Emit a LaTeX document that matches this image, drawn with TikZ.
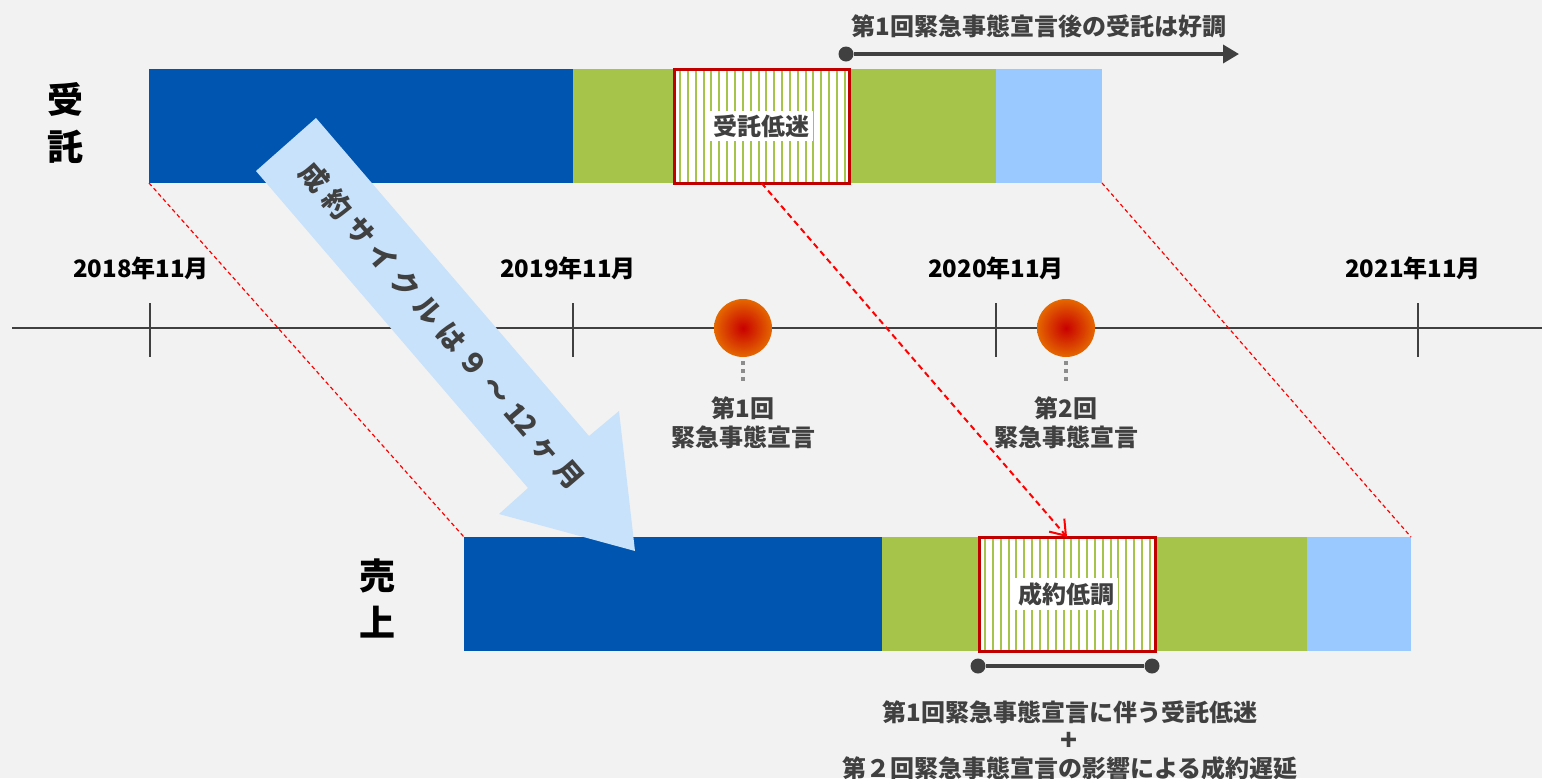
\documentclass[tikz,border=0pt]{standalone}
\usepackage{fontspec}
\setmainfont{Noto Sans CJK JP}
\usetikzlibrary{arrows.meta,fit}
\definecolor{bg}{HTML}{F2F2F2}
\definecolor{dblue}{HTML}{0055B0}
\definecolor{grn}{HTML}{A6C34A}
\definecolor{lblue}{HTML}{99C9FF}
\definecolor{arrblue}{HTML}{C8E2FB}
\definecolor{dred}{HTML}{C00000}
\definecolor{txtgray}{HTML}{404040}
\definecolor{linegray}{HTML}{404040}
\definecolor{dotgray}{HTML}{8C8C8C}
\definecolor{orbin}{HTML}{C80000}
\definecolor{orbmid}{HTML}{DC4A00}
\definecolor{orbout}{HTML}{F29600}
\pgfdeclareradialshading{orb}{\pgfpoint{0bp}{0bp}}{color(0bp)=(orbin); color(18bp)=(orbmid); color(36bp)=(orbout); color(50bp)=(orbout)}
\begin{document}
\begin{tikzpicture}[x=0.5pt,y=-0.5pt,
  font=\bfseries,
  bar/.style={inner sep=0pt, outer sep=0pt},
  hatchbox/.style={inner sep=0pt, outer sep=0pt, fill=white},
  hatch/.style={grn, line width=1pt},
  redframe/.style={draw=dred, line width=1.5pt},
  lbl/.style={fill=white, inner sep=2pt, text=txtgray, font=\bfseries\fontsize{12}{14}\selectfont},
  year/.style={text=black, font=\bfseries\fontsize{12}{14}\selectfont},
  note/.style={text=txtgray, align=center, font=\bfseries\fontsize{12}{14.5}\selectfont},
  side/.style={text=black, align=center, font=\bfseries\fontsize{18}{23.5}\selectfont},
  thinred/.style={red, line width=0.6pt, dash pattern=on 2pt off 1.5pt},
  thickred/.style={red, line width=1pt, dash pattern=on 3pt off 2pt, -{Straight Barb[length=7pt,width=10pt]}},
  dot/.style={circle, fill=linegray, inner sep=0pt, minimum size=7.5pt},
  orbnode/.style={circle, shading=orb, inner sep=0pt, minimum size=29pt},
  dotline/.style={dotgray, line width=2pt, dash pattern=on 2pt off 2pt},
]
\path[use as bounding box, fill=bg] (0,0) rectangle (1542,778);

% ---------- top bar (受託)
\node[bar, fill=dblue, fit={(149,69)(573,183)}] (tb1) {};
\node[bar, fill=grn, fit={(573,69)(996,183)}] (tb2) {};
\node[bar, fill=lblue, fit={(996,69)(1102,183)}] (tb3) {};
\node[hatchbox, fit={(674,69)(849,183)}] (th) {};
\begin{scope}
  \clip (674,69) rectangle (849,183);
  \foreach \x in {680,687.85,...,847} \draw[hatch] (\x,69) -- (\x,183);
\end{scope}
\draw[redframe] (th.south west) rectangle (th.north east);
\node[lbl] (thl) at (761,126) {受託低迷};

% ---------- bottom bar (売上)
\node[bar, fill=dblue, fit={(464,537)(882,651)}] (bb1) {};
\node[bar, fill=grn, fit={(882,537)(1307,651)}] (bb2) {};
\node[bar, fill=lblue, fit={(1307,537)(1411,651)}] (bb3) {};
\node[hatchbox, fit={(979,537)(1155,651)}] (bh) {};
\begin{scope}
  \clip (979,537) rectangle (1155,651);
  \foreach \x in {985,992.85,...,1152} \draw[hatch] (\x,537) -- (\x,651);
\end{scope}
\draw[redframe] (bh.south west) rectangle (bh.north east);
\node[lbl] (bhl) at (1066,594) {成約低調};

% ---------- side labels
\node[side] (jt) at (65,123.5) {受\\託};
\node[side] (uj) at (377,598.5) {売\\上};

% ---------- timeline
\coordinate (tlA) at (12,328);
\coordinate (tlB) at (1542,328);
\draw[linegray, line width=1.4pt] (tlA) -- (tlB);
\foreach \n/\x in {a/150,b/573,c/996,d/1418}{
  \coordinate (tick\n top) at (\x,303);
  \coordinate (tick\n bot) at (\x,357);
  \draw[linegray, line width=1.2pt] (tick\n top) -- (tick\n bot);
}
\node[year] (y18) at (141,268) {2018年11月};
\node[year] (y19) at (568,268) {2019年11月};
\node[year] (y20) at (996,268) {2020年11月};
\node[year] (y21) at (1413,268) {2021年11月};

% ---------- emergency declarations
\node[orbnode] (o1) at (743,328) {};
\node[orbnode] (o2) at (1066,328) {};
\coordinate (d1) at (743,383);
\coordinate (d2) at (1066,383);
\draw[dotline] ([yshift=-2pt]o1.south) -- (d1);
\draw[dotline] ([yshift=-2pt]o2.south) -- (d2);
\node[note] (n1) at (743,423) {第1回\\緊急事態宣言};
\node[note] (n2) at (1066,423) {第2回\\緊急事態宣言};

% ---------- red dashed connectors
\draw[thinred] (tb1.south west) -- (bb1.north west);
\draw[thinred] (tb3.south east) -- (bb3.north east);
\draw[thickred] (th.south) -- (bh.north);

% ---------- big arrow
\fill[arrblue] (316,118) -- (589,436) -- (619,411) -- (635,551) -- (499,514) -- (528,488) -- (256,171) -- cycle;
\node[text=txtgray, rotate=-49.4, inner sep=0pt, font=\bfseries\fontsize{14}{16}\selectfont] (cyc) at (442,326)
  {成\kern3.5pt 約\kern3.5pt サ\kern3.5pt イ\kern3.5pt ク\kern3.5pt ル\kern3.5pt は\kern3.5pt ９\kern3.5pt ～\kern3.5pt 12\kern3.5pt ヶ\kern3.5pt 月};

% ---------- top annotation
\node[dot] (s1) at (846,54) {};
\coordinate (e1) at (1239,54);
\draw[linegray, line width=1.8pt, -{Triangle[length=8pt,width=9pt]}] (s1) -- (e1);
\node[note] (topt) at (1039,26) {第1回緊急事態宣言後の受託は好調};

% ---------- bottom annotation
\node[dot] (b1) at (978,666) {};
\node[dot] (b2) at (1152,666) {};
\draw[linegray, line width=1.8pt] (b1) -- (b2);
\node[note] (bt1) at (1070,712) {第1回緊急事態宣言に伴う受託低迷};
\node[note, font=\bfseries\fontsize{14}{14.5}\selectfont] (bt2) at (1069,741) {+};
\node[note] (bt3) at (1070,768) {第２回緊急事態宣言の影響による成約遅延};
\end{tikzpicture}
\end{document}
